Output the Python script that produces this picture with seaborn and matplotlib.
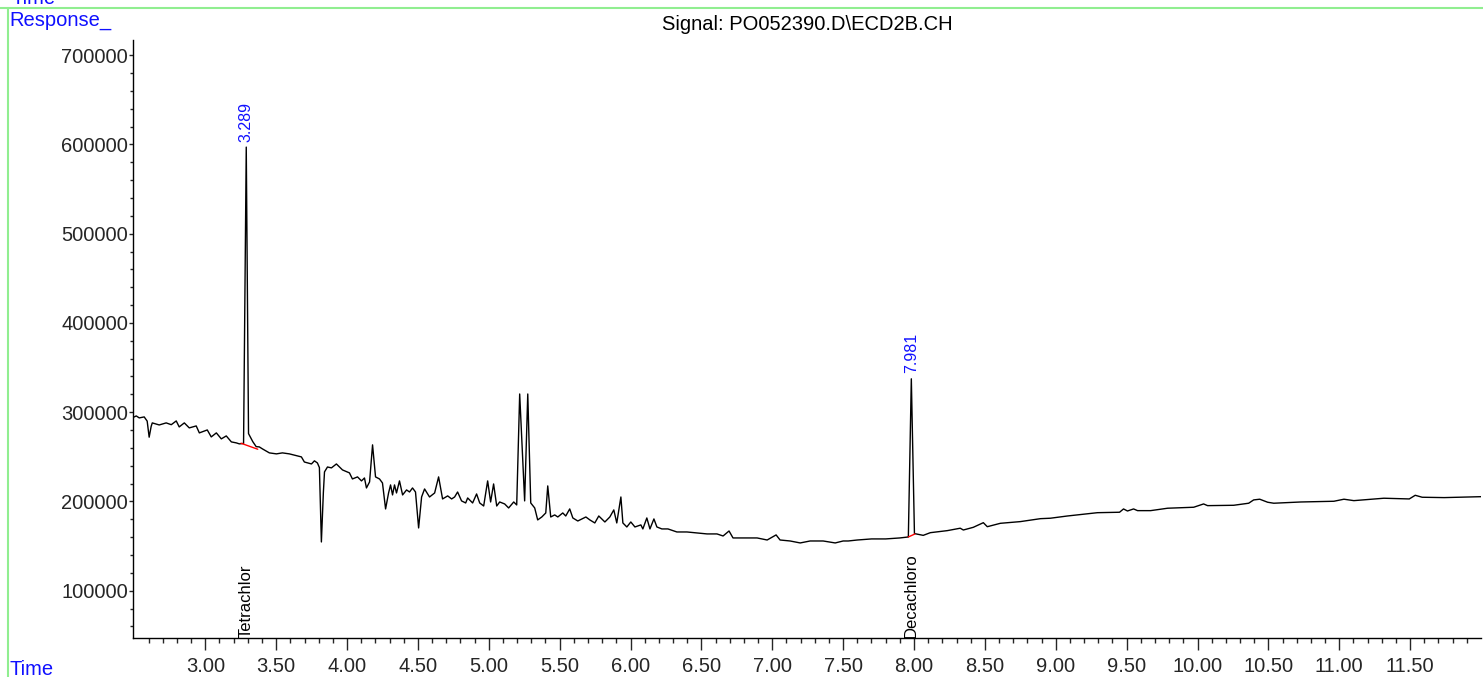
import numpy as np
import pandas as pd
import matplotlib
matplotlib.use("Agg")
import matplotlib.pyplot as plt
from matplotlib.lines import Line2D
from matplotlib.ticker import FixedLocator, FormatStrFormatter
import seaborn as sns

# retention time (min) and detector response
time_min = [
    2.484, 2.513, 2.534, 2.569, 2.590, 2.604, 2.618, 2.626, 2.675, 2.724,
    2.760, 2.795, 2.816, 2.852, 2.887, 2.936, 2.958, 3.014, 3.042, 3.078,
    3.113, 3.148, 3.184, 3.219, 3.240, 3.270, 3.289, 3.305, 3.335, 3.359,
    3.381, 3.403, 3.452, 3.502, 3.544, 3.593, 3.678, 3.699, 3.749, 3.770,
    3.791, 3.805, 3.819, 3.833, 3.841, 3.862, 3.890, 3.925, 3.968, 4.017,
    4.038, 4.074, 4.102, 4.123, 4.137, 4.159, 4.180, 4.201, 4.229, 4.250,
    4.272, 4.293, 4.307, 4.321, 4.335, 4.349, 4.370, 4.392, 4.420, 4.441,
    4.462, 4.483, 4.505, 4.526, 4.547, 4.582, 4.618, 4.646, 4.674, 4.710,
    4.738, 4.759, 4.780, 4.808, 4.837, 4.851, 4.886, 4.914, 4.936, 4.964,
    4.992, 5.013, 5.034, 5.056, 5.077, 5.112, 5.140, 5.176, 5.197, 5.218,
    5.253, 5.275, 5.296, 5.324, 5.345, 5.374, 5.402, 5.416, 5.437, 5.465,
    5.487, 5.522, 5.543, 5.571, 5.593, 5.628, 5.685, 5.713, 5.748, 5.776,
    5.819, 5.854, 5.882, 5.903, 5.932, 5.946, 5.974, 6.002, 6.031, 6.073,
    6.087, 6.115, 6.137, 6.165, 6.186, 6.221, 6.264, 6.327, 6.398, 6.469,
    6.540, 6.610, 6.653, 6.695, 6.723, 6.794, 6.893, 6.964, 7.027, 7.055,
    7.126, 7.197, 7.267, 7.359, 7.444, 7.500, 7.536, 7.600, 7.700, 7.800,
    7.900, 7.960, 7.981, 8.003, 8.065, 8.115, 8.235, 8.326, 8.348, 8.418,
    8.489, 8.517, 8.609, 8.750, 8.892, 8.962, 9.082, 9.294, 9.450, 9.478,
    9.506, 9.549, 9.577, 9.669, 9.789, 9.973, 10.043, 10.071, 10.255, 10.361,
    10.396, 10.439, 10.495, 10.538, 10.729, 10.962, 11.033, 11.103, 11.315, 11.494,
    11.536, 11.585, 11.740, 12.016,
]
response = [
    293600, 295800, 293600, 294700, 290000, 272000, 284000, 288000, 285700, 288000,
    286000, 290200, 283500, 288000, 282400, 284600, 276800, 280100, 272300, 276800,
    270100, 273400, 266700, 265600, 264500, 265000, 597000, 276000, 267000, 261400,
    261100, 258900, 254400, 253300, 254400, 253300, 249900, 244200, 242000, 245500,
    243100, 238000, 154600, 210000, 233100, 238600, 237600, 242000, 235300, 232000,
    225200, 227500, 223000, 226300, 215100, 221900, 263400, 227500, 225200, 220700,
    191600, 209500, 218500, 207300, 218500, 209500, 223000, 207300, 212900, 210600,
    215100, 210600, 170300, 205000, 214000, 205000, 209500, 227500, 202800, 206200,
    202800, 205000, 210600, 200600, 198300, 203900, 198300, 208400, 198300, 194900,
    223000, 199400, 219600, 194900, 199400, 197200, 192700, 199400, 196100, 320400,
    200600, 320400, 198300, 192700, 179300, 182600, 187100, 217400, 182600, 184900,
    182600, 187100, 183700, 191600, 181500, 178100, 182600, 179300, 175900, 183700,
    177000, 182600, 190500, 175900, 205000, 175900, 171400, 177000, 171400, 173700,
    169200, 181500, 169200, 180400, 171400, 169200, 169200, 165800, 165800, 164700,
    163600, 163600, 161300, 166900, 159100, 159100, 159100, 156800, 162500, 156800,
    155700, 153500, 155700, 155700, 153500, 155700, 155700, 156800, 158000, 158000,
    159100, 160200, 337400, 164000, 162000, 165000, 167300, 170000, 168000, 171000,
    176200, 171700, 175500, 177400, 180700, 181200, 183700, 187400, 187900, 191600,
    189300, 191600, 189700, 189700, 192400, 193500, 197200, 195300, 195700, 198000,
    201700, 202500, 199100, 198000, 199400, 200200, 202500, 200900, 203600, 202800,
    206900, 204700, 204300, 205400,
]

# integrated peaks
peak_names = ["Tetrachlor", "Decachloro"]
peak_rt = [3.289, 7.981]
peak_top = [597000, 337400]
# baselines drawn under each peak (start, end)
base_t = [[3.252, 3.370], [7.960, 8.007]]
base_r = [[265200, 258500], [160200, 163600]]

xticks_major = [3.00, 3.50, 4.00, 4.50, 5.00, 5.50, 6.00, 6.50, 7.00, 7.50,
                8.00, 8.50, 9.00, 9.50, 10.00, 10.50, 11.00, 11.50]
yticks_major = [100000, 200000, 300000, 400000, 500000, 600000, 700000]

df = pd.DataFrame({"Time": time_min, "Response": response})

sns.set_theme(style="ticks")
plt.rcParams["font.family"] = ["Liberation Sans", "DejaVu Sans"]

fig = plt.figure(figsize=(14.83, 6.77), dpi=100)
ax = fig.add_axes([133 / 1483, 1 - 638 / 677, 1348 / 1483, 598 / 677])

sns.lineplot(data=df, x="Time", y="Response", ax=ax, color="black",
             linewidth=1.0, sort=False, estimator=None)

for bt, br in zip(base_t, base_r):
    ax.plot(bt, br, color="red", linewidth=1.0)

ax.set_xlim(2.49, 12.0)
ax.set_ylim(47000, 717000)

for name, rt, top in zip(peak_names, peak_rt, peak_top):
    ax.annotate(f"{rt:.3f}", xy=(rt, top), xytext=(0, 4), textcoords="offset points",
                rotation=90, ha="center", va="bottom", color="#1010ff", fontsize=11.5)
    ax.text(rt, 47000, name, rotation=90, ha="center", va="bottom",
            color="black", fontsize=12)

ax.xaxis.set_major_locator(FixedLocator(xticks_major))
ax.xaxis.set_minor_locator(FixedLocator([round(2.6 + 0.1 * i, 2) for i in range(94)]))
ax.xaxis.set_major_formatter(FormatStrFormatter("%.2f"))
ax.yaxis.set_major_locator(FixedLocator(yticks_major))
ax.yaxis.set_minor_locator(FixedLocator(list(range(60000, 717000, 20000))))

ax.tick_params(axis="x", which="major", length=8.5, width=1, labelsize=14.5, pad=5)
ax.tick_params(axis="x", which="minor", length=3.6, width=1)
ax.tick_params(axis="y", which="major", length=3, width=1, labelsize=14.5, pad=0.5)
ax.tick_params(axis="y", which="minor", length=2.5, width=1)

sns.despine(ax=ax, top=True, right=True)
for side in ["left", "bottom"]:
    ax.spines[side].set_color("black")
    ax.spines[side].set_linewidth(1)
ax.set_xlabel("")
ax.set_ylabel("")

fig.text(0.5444, 1 - 25 / 677, "Signal: PO052390.D\\ECD2B.CH", ha="center",
         va="center", fontsize=14.5, color="black")
fig.text(9 / 1483, 1 - 20 / 677, "Response_", ha="left", va="center",
         fontsize=14.5, color="#1010ff")
fig.text(9 / 1483, 1 - 675 / 677, "Time", ha="left", va="baseline",
         fontsize=14.5, color="#1010ff")
# header line above the frame, cut off by the top edge as in the source
fig.text(11 / 1483, 1 - 4 / 677, "Time", ha="left", va="baseline",
         fontsize=14.5, color="#1010ff")

green = "#90ee90"
fig.add_artist(Line2D([0, 1], [1 - 8 / 677, 1 - 8 / 677], transform=fig.transFigure,
                      color=green, linewidth=1.5))
fig.add_artist(Line2D([8 / 1483, 8 / 1483], [0, 1 - 8 / 677], transform=fig.transFigure,
                      color=green, linewidth=1.5))

fig.savefig("out.png", dpi=100)
